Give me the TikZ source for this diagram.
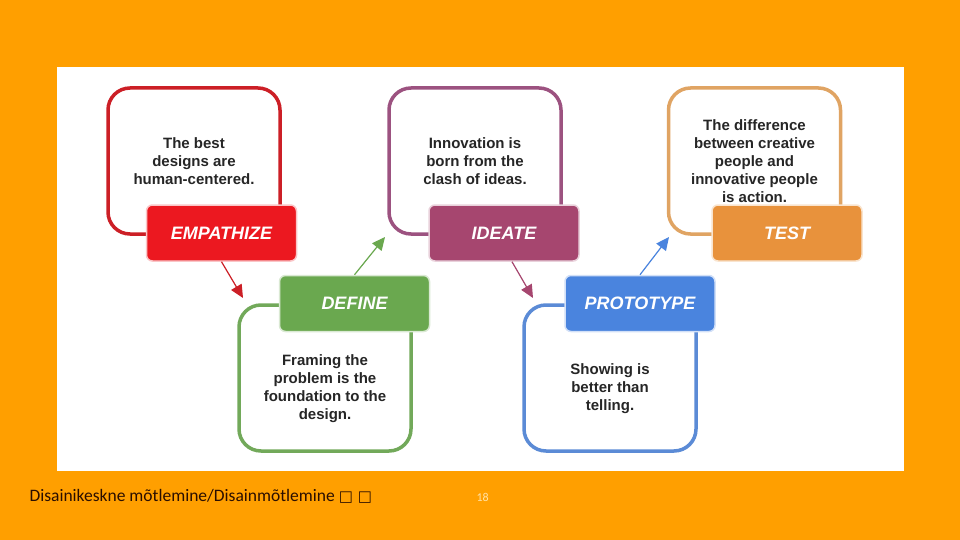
\documentclass[tikz,border=0pt]{standalone}
\usepackage{fontspec}
\setmainfont{Liberation Sans}
\newfontfamily\footfont{Carlito}
\newfontfamily\symbfont{DejaVu Sans}
\usetikzlibrary{arrows.meta}
\definecolor{slideorange}{HTML}{FF9F00}
\definecolor{footbrown}{HTML}{2A0E00}
\definecolor{paleyellow}{HTML}{FFE2A8}
\definecolor{empred}{HTML}{EC1820}
\definecolor{empline}{HTML}{CC1F26}
\definecolor{idepurple}{HTML}{A6466F}
\definecolor{ideline}{HTML}{9C5280}
\definecolor{testorange}{HTML}{E8923C}
\definecolor{testline}{HTML}{E0A463}
\definecolor{defgreen}{HTML}{6AA84F}
\definecolor{defline}{HTML}{72A95A}
\definecolor{protoblue}{HTML}{4A84DE}
\definecolor{protoline}{HTML}{5B8BD6}

\begin{document}
\begin{tikzpicture}[x=1pt,y=-1pt,
  quote/.style={draw=#1,line width=3.5pt,rounded corners=22pt,minimum width=172pt,minimum height=146pt,fill=white},
  quotetext/.style={align=center,font=\fontsize{15}{18}\selectfont\bfseries,text=black!85},
  stage/.style={fill=#1,draw=#1!25,line width=1.5pt,rounded corners=6pt,minimum width=150pt,minimum height=56pt,text=white,font=\fontsize{18}{18}\selectfont\bfseries\itshape},
  arr/.style={draw=#1,fill=#1,line width=1.2pt,-{Triangle[length=13pt,width=12pt]}}]
\useasboundingbox (0,0) rectangle (960,540);
\fill[slideorange] (0,0) rectangle (960,540);
\fill[white] (57,67) rectangle (904,471);

% upper row
\node[quote=empline] (empq) at (194,161) {};
\node[quotetext] (empt) at (empq) {The best\\designs are\\human-centered.};
\node[stage=empred] (emp) at (221.5,233) {EMPATHIZE};

\node[quote=ideline] (ideq) at (475,161) {};
\node[quotetext] (idet) at (ideq) {Innovation is\\born from the\\clash of ideas.};
\node[stage=idepurple] (ide) at (504,233) {IDEATE};

\node[quote=testline] (testq) at (754.5,161) {};
\node[quotetext] (testt) at (testq) {The difference\\between creative\\people and\\innovative people\\is action.};
\node[stage=testorange] (test) at (787,233) {TEST};

% lower row
\node[quote=defline] (defq) at (325,378) {};
\node[quotetext] (deft) at (325,389) {Framing the\\problem is the\\foundation to the\\design.};
\node[stage=defgreen] (def) at (354.5,303.5) {DEFINE};

\node[quote=protoline] (protoq) at (610,378) {};
\node[quotetext] (protot) at (610,389) {Showing is\\better than\\telling.};
\node[stage=protoblue] (proto) at (640,303.5) {PROTOTYPE};

% arrows
\coordinate (a1) at (243,298);
\coordinate (a2) at (385,237);
\coordinate (a3) at (533,298);
\coordinate (a4) at (669,237);
\draw[arr=empline] (emp.south) -- (a1);
\draw[arr=defgreen] (def.north) -- (a2);
\draw[arr=idepurple] ([xshift=8pt]ide.south) -- (a3);
\draw[arr=protoblue] (proto.north) -- (a4);

% footer
\node[anchor=base west,font=\footfont\fontsize{17.5}{20}\selectfont,text=footbrown] (foot) at (26,501) {Disainikeskne mõtlemine/Disainmõtlemine {\symbfont\fontsize{15}{18}\selectfont □ □}};
\node[anchor=base west,font=\footfont\fontsize{12}{12}\selectfont,text=paleyellow] (pnum) at (473,501) {18};
\end{tikzpicture}
\end{document}
